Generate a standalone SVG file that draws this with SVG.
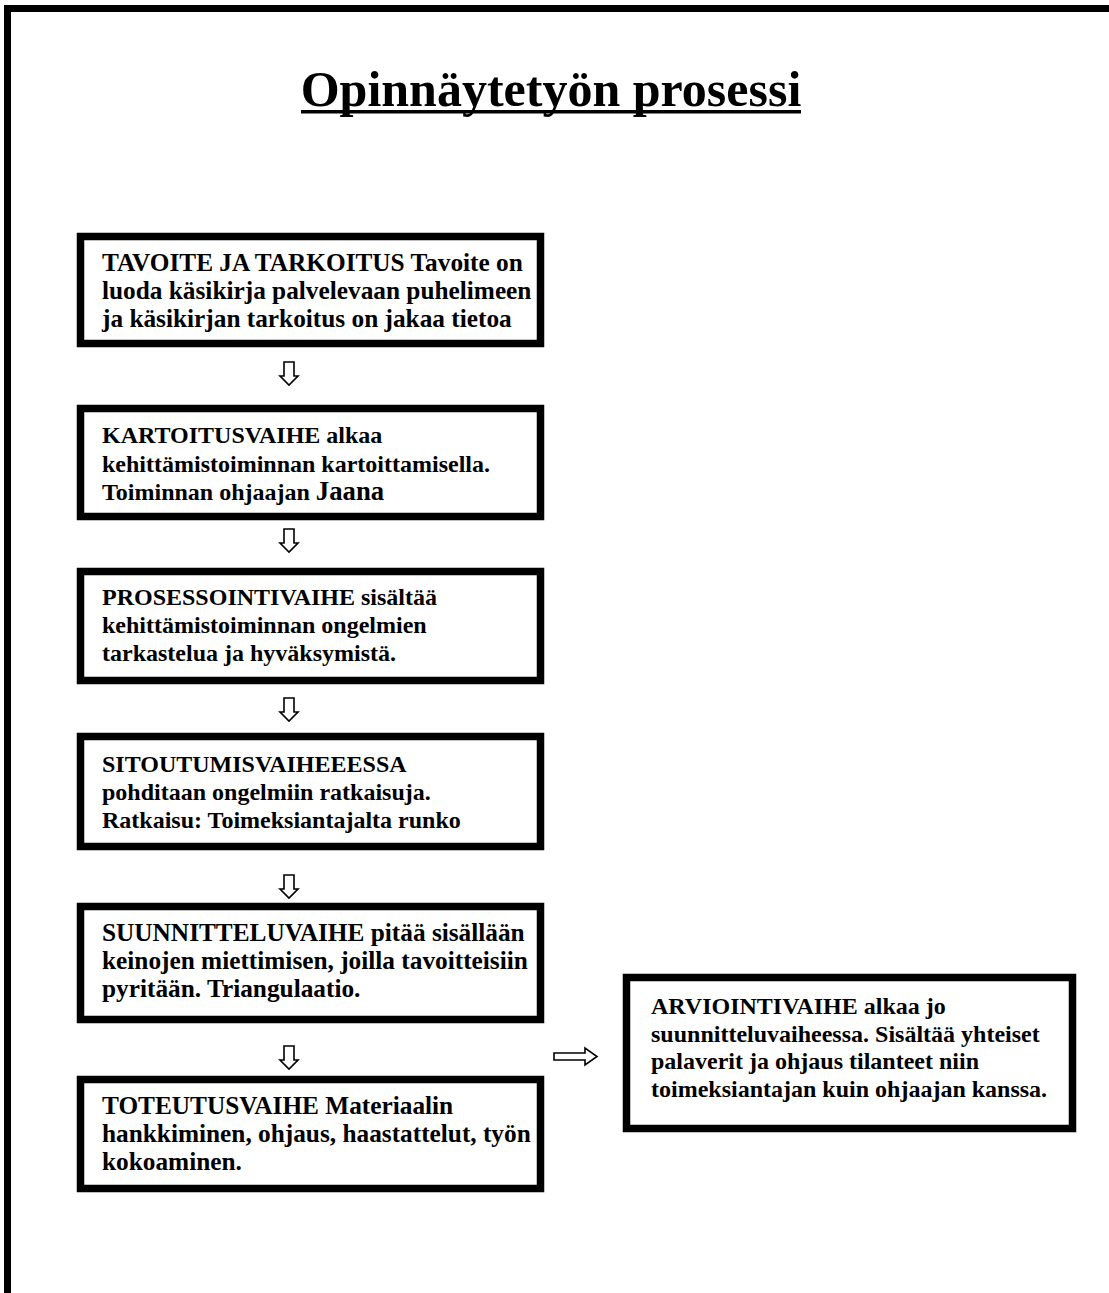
<svg xmlns="http://www.w3.org/2000/svg" xmlns:xlink="http://www.w3.org/1999/xlink" width="1109" height="1293" viewBox="0 0 1109 1293">
<style>
.box{fill:#fff;stroke:#000;stroke-width:7.5}
.t{font-family:"Liberation Serif","Times New Roman",serif;font-weight:bold;font-size:24px;fill:#000}
.big{font-size:25.3px}
.title{font-family:"Liberation Serif","Times New Roman",serif;font-weight:bold;font-size:50px;fill:#000}
.arr{fill:#fff;stroke:#000;stroke-width:1.6;stroke-linejoin:miter}
</style>
<defs>
<path id="down" class="arr" d="M-5,0 H5 V14 H9 L0,23 L-9,14 H-5 Z"/>
</defs>
<rect width="1109" height="1293" fill="#fff"/>
<path d="M7.5,1293 V8.5 H1109" fill="none" stroke="#000" stroke-width="7"/>
<g id="title">
<text class="title" x="551" y="106" text-anchor="middle">Opinnäytetyön prosessi</text>
<rect x="301" y="110" width="500" height="3.5" fill="#000"/>
</g>
<g id="connectors">
<use xlink:href="#down" x="289" y="362"/>
<use xlink:href="#down" x="289" y="529"/>
<use xlink:href="#down" x="289" y="698"/>
<use xlink:href="#down" x="289" y="875"/>
<use xlink:href="#down" x="289" y="1046"/>
<path class="arr" d="M554,1053 H585 V1048 L597,1056.5 L585,1065 V1060 H554 Z"/>
</g>
<g id="n1">
<rect class="box" x="80.5" y="236.5" width="460" height="107"/>
<text class="t big" x="102"><tspan x="102" y="271">TAVOITE JA TARKOITUS Tavoite on</tspan><tspan x="102" y="299">luoda käsikirja palvelevaan puhelimeen</tspan><tspan x="102" y="327">ja käsikirjan tarkoitus on jakaa tietoa</tspan></text>
</g>
<g id="n2">
<rect class="box" x="80.5" y="408.5" width="460" height="108"/>
<text class="t" x="102"><tspan x="102" y="443">KARTOITUSVAIHE alkaa</tspan><tspan x="102" y="472">kehittämistoiminnan kartoittamisella.</tspan><tspan x="102" y="500">Toiminnan ohjaajan <tspan font-size="26.7px">Jaana</tspan></tspan></text>
</g>
<g id="n3">
<rect class="box" x="80.5" y="571.5" width="460" height="109"/>
<text class="t" x="102"><tspan x="102" y="605">PROSESSOINTIVAIHE sisältää</tspan><tspan x="102" y="633">kehittämistoiminnan ongelmien</tspan><tspan x="102" y="661">tarkastelua ja hyväksymistä.</tspan></text>
</g>
<g id="n4">
<rect class="box" x="80.5" y="736.5" width="460" height="110"/>
<text class="t" x="102"><tspan x="102" y="772">SITOUTUMISVAIHEEESSA</tspan><tspan x="102" y="800">pohditaan ongelmiin ratkaisuja.</tspan><tspan x="102" y="828">Ratkaisu: Toimeksiantajalta runko</tspan></text>
</g>
<g id="n5">
<rect class="box" x="80.5" y="906.5" width="460" height="113"/>
<text class="t big" x="102"><tspan x="102" y="941">SUUNNITTELUVAIHE pitää sisällään</tspan><tspan x="102" y="969">keinojen miettimisen, joilla tavoitteisiin</tspan><tspan x="102" y="997">pyritään. Triangulaatio.</tspan></text>
</g>
<g id="n6">
<rect class="box" x="80.5" y="1079.5" width="460" height="109"/>
<text class="t big" x="102"><tspan x="102" y="1114">TOTEUTUSVAIHE Materiaalin</tspan><tspan x="102" y="1142">hankkiminen, ohjaus, haastattelut, työn</tspan><tspan x="102" y="1170">kokoaminen.</tspan></text>
</g>
<g id="n7">
<rect class="box" x="626.5" y="977.5" width="446" height="151"/>
<text class="t" x="651"><tspan x="651" y="1014">ARVIOINTIVAIHE alkaa jo</tspan><tspan x="651" y="1042">suunnitteluvaiheessa. Sisältää yhteiset</tspan><tspan x="651" y="1069">palaverit ja ohjaus tilanteet niin</tspan><tspan x="651" y="1097">toimeksiantajan kuin ohjaajan kanssa.</tspan></text>
</g>
</svg>
